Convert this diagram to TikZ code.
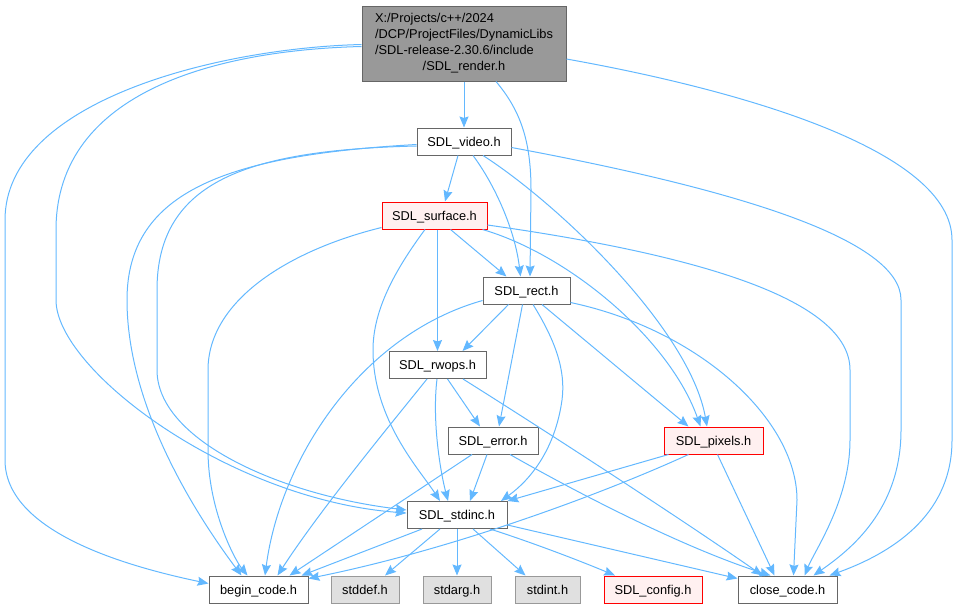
\documentclass[tikz,border=0pt]{standalone}
\usepackage{fontspec}
\setmainfont{Liberation Sans}
\usetikzlibrary{arrows.meta}
\definecolor{edgeblue}{HTML}{63B8FF}
\definecolor{boxgray}{HTML}{666666}
\definecolor{rootfill}{HTML}{999999}
\definecolor{redfill}{HTML}{FFF0F0}
\definecolor{extfill}{HTML}{E0E0E0}
\definecolor{extborder}{HTML}{999999}
\begin{document}
\begin{tikzpicture}[x=1pt,y=-1pt,
  frame/.style={draw=boxgray, fill=white, line width=1pt, inner sep=0pt, font=\fontsize{12.8}{16}\selectfont},
  box/.style={frame, minimum height=27pt, text height=9.2pt, text depth=0pt},
  rootbox/.style={frame, fill=rootfill},
  redbox/.style={box, draw=red, fill=redfill},
  extbox/.style={box, draw=extborder, fill=extfill},
  dep/.style={draw=edgeblue, line width=1pt, -{Stealth[length=11pt,width=9pt,inset=1.5pt]}}]
\useasboundingbox (0,0) rectangle (957,608);

\node[rootbox, minimum width=204pt, minimum height=75pt] (render) at (464,43.5)
  {\begin{tabular}{@{}l@{}}X:/Projects/c++/2024\\/DCP/ProjectFiles/DynamicLibs\\/SDL-release-2.30.6/include\\\multicolumn{1}{@{}c@{}}{/SDL\_render.h}\end{tabular}};
\node[box, minimum width=94pt] (video) at (464,141.5) {SDL\_video.h};
\node[redbox, minimum width=105pt] (surface) at (434.5,215.5) {SDL\_surface.h};
\node[box, minimum width=87pt] (rect) at (526.5,290.5) {SDL\_rect.h};
\node[box, minimum width=97pt] (rwops) at (437.5,365) {SDL\_rwops.h};
\node[box, minimum width=90pt] (error) at (493,440.5) {SDL\_error.h};
\node[redbox, minimum width=99pt] (pixels) at (713.5,440.5) {SDL\_pixels.h};
\node[box, minimum width=100pt] (stdinc) at (457,515) {SDL\_stdinc.h};
\node[box, minimum width=99pt] (begin) at (258.5,589.5) {begin\_code.h};
\node[extbox, minimum width=68pt] (stddef) at (365,589.5) {stddef.h};
\node[extbox, minimum width=68pt] (stdarg) at (457,589.5) {stdarg.h};
\node[extbox, minimum width=65pt] (stdint) at (547.5,589.5) {stdint.h};
\node[redbox, minimum width=98pt] (config) at (653,589.5) {SDL\_config.h};
\node[box, minimum width=99pt] (close) at (787.5,589.5) {close\_code.h};

% render
\draw[dep] (render.south) -- (video.north);
\draw[dep] ([xshift=32pt]render.south) .. controls (520,110) and (531,140) .. (531,190) -- ([xshift=3.5pt]rect.north);
\draw[dep] ([yshift=-1pt]render.west) .. controls (220,48) and (5,100) .. (5,220) -- (5,460) .. controls (5,530) and (120,565) .. ([yshift=6pt]begin.west);
\draw[dep] ([yshift=-3pt]render.west) .. controls (220,50) and (56,90) .. (56,230) -- (56,300) .. controls (56,370) and (230,500) .. ([yshift=2pt]stdinc.west);
\draw[dep] ([yshift=-15.5pt]render.east) .. controls (740,90) and (952,150) .. (952,240) -- (952,440) .. controls (952,510) and (900,550) .. ([xshift=42pt]close.north);
% video
\draw[dep] ([xshift=-6pt]video.south) -- ([xshift=10.5pt]surface.north);
\draw[dep] ([xshift=9pt]video.south) .. controls (495,185) and (515,230) .. ([xshift=-6pt]rect.north);
\draw[dep] ([xshift=19pt]video.south) .. controls (560,205) and (690,330) .. ([xshift=-6.5pt]pixels.north);
\draw[dep] ([yshift=-3pt]video.west) .. controls (230,155) and (127,190) .. (127,300) .. controls (127,410) and (200,520) .. ([xshift=-17pt]begin.north);
\draw[dep] ([yshift=-4.5pt]video.west) .. controls (250,150) and (157,180) .. (157,290) -- (157,370) .. controls (157,440) and (280,495) .. ([yshift=5pt]stdinc.west);
\draw[dep] ([yshift=-6pt]video.east) .. controls (740,190) and (901,240) .. (901,300) -- (901,430) .. controls (901,510) and (850,550) .. ([xshift=26pt]close.north);
% surface
\draw[dep] ([xshift=16pt]surface.south) -- ([xshift=-20pt]rect.north);
\draw[dep] ([xshift=3pt]surface.south) -- (rwops.north);
\draw[dep] ([xshift=48pt]surface.south) .. controls (570,255) and (670,340) .. ([xshift=-13pt]pixels.north);
\draw[dep] ([yshift=-9.5pt]surface.east) .. controls (700,255) and (850,300) .. (850,370) -- (850,440) .. controls (850,500) and (815,550) .. ([xshift=17pt]close.north);
\draw[dep] ([yshift=-12pt]surface.west) .. controls (290,250) and (208,300) .. (208,370) -- (208,450) .. controls (208,510) and (235,560) .. ([xshift=-11pt]begin.north);
\draw[dep] ([xshift=-9.5pt]surface.south) .. controls (395,270) and (373,310) .. (373,350) .. controls (373,420) and (420,470) .. ([xshift=-17pt]stdinc.north);
% rect
\draw[dep] ([xshift=-18pt]rect.south) -- ([xshift=25pt]rwops.north);
\draw[dep] ([xshift=-4pt]rect.south) -- ([xshift=6pt]error.north);
\draw[dep] ([xshift=15.5pt]rect.south) -- ([xshift=-25pt]pixels.north);
\draw[dep] ([xshift=6.5pt]rect.south) .. controls (555,340) and (566,370) .. (562,400) .. controls (555,450) and (530,480) .. ([xshift=44pt]stdinc.north);
\draw[dep] ([yshift=-10pt]rect.west) .. controls (360,335) and (280,460) .. ([xshift=6.5pt]begin.north);
\draw[dep] ([yshift=-12pt]rect.east) .. controls (700,330) and (797,420) .. (797,500) -- ([xshift=6pt]close.north);
% rwops
\draw[dep] ([xshift=10pt]rwops.south) -- ([xshift=-13pt]error.north);
\draw[dep] ([xshift=-0.5pt]rwops.south) .. controls (432,420) and (440,470) .. ([xshift=-9pt]stdinc.north);
\draw[dep] ([xshift=-10.5pt]rwops.south) .. controls (390,425) and (320,510) .. ([xshift=19pt]begin.north);
\draw[dep] ([xshift=25.5pt]rwops.south) .. controls (560,440) and (690,525) .. ([xshift=-25pt]close.north);
% error
\draw[dep] ([xshift=-6pt]error.south) -- ([xshift=13pt]stdinc.north);
\draw[dep] ([xshift=-21pt]error.south) -- ([xshift=31pt]begin.north);
\draw[dep] ([xshift=17pt]error.south) .. controls (590,500) and (690,550) .. ([xshift=-17pt]close.north);
% pixels
\draw[dep] ([xshift=-45pt]pixels.south) -- (stdinc.north east);
\draw[dep] ([xshift=-25pt]pixels.south) .. controls (600,495) and (450,550) .. ([yshift=11pt]begin.east);
\draw[dep] ([xshift=4pt]pixels.south) -- ([xshift=-13pt]close.north);
% stdinc
\draw[dep] ([xshift=-35pt]stdinc.south) -- ([xshift=43pt]begin.north);
\draw[dep] ([xshift=-17pt]stdinc.south) -- ([xshift=20pt]stddef.north);
\draw[dep] (stdinc.south) -- (stdarg.north);
\draw[dep] ([xshift=16pt]stdinc.south) -- ([xshift=-22pt]stdint.north);
\draw[dep] ([xshift=33pt]stdinc.south) .. controls (540,545) and (590,565) .. ([xshift=-38pt]config.north);
\draw[dep] ([yshift=-10pt]stdinc.east) -- ([yshift=-3pt]close.north west);
\end{tikzpicture}
\end{document}
